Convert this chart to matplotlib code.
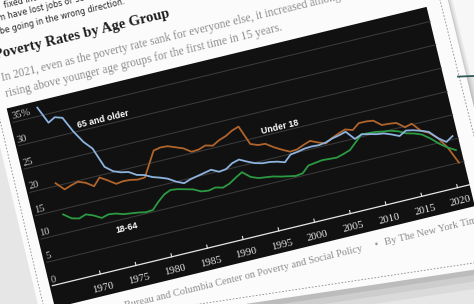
import numpy as np
import matplotlib.pyplot as plt
from matplotlib.transforms import Affine2D
from matplotlib.patches import Polygon, Rectangle

# poverty rates (%) by age group
years = list(range(1967, 2022))
under_18 = [20.6, 18.9, 19.4, 19.8, 19.2, 18.1, 19.6, 18.6, 17.5, 17.7,
            17.6, 17.3, 17.4, 19.9, 22.4, 22.7, 22.6, 22.0, 21.4, 20.3,
            20.4, 20.9, 20.5, 21.3, 21.8, 22.6, 23.1, 19.0, 18.4, 18.3,
            17.2, 16.3, 15.5, 15.6, 16.2, 16.7, 16.0, 15.4, 16.2, 16.8,
            17.3, 16.8, 17.9, 17.9, 17.7, 16.4, 16.3, 16.1, 14.8, 15.2,
            13.3, 12.5, 11.0, 8.6, 5.0]
age_18_64 = [13.9, 12.7, 12.3, 12.8, 12.2, 11.3, 11.7, 11.5, 11.0, 10.8,
             10.6, 10.3, 10.4, 11.8, 13.0, 13.6, 13.4, 13.0, 12.6, 11.8,
             11.6, 11.9, 11.5, 12.0, 12.9, 13.7, 12.3, 11.7, 11.5, 11.3,
             10.9, 10.6, 10.3, 10.5, 11.8, 12.0, 12.2, 12.1, 12.0, 12.4,
             12.9, 14.2, 15.5, 15.4, 15.3, 15.0, 14.8, 14.3, 13.5, 13.1,
             12.5, 11.3, 9.8, 8.6, 7.7]
age_65_up = [36.8, 33.2, 34.0, 33.5, 30.2, 27.6, 25.8, 21.5, 20.2, 19.6,
             19.3, 18.3, 17.9, 17.1, 16.6, 16.0, 15.0, 14.3, 14.8, 15.1,
             15.4, 15.7, 14.9, 15.1, 16.0, 16.4, 15.6, 14.9, 14.5, 14.4,
             14.1, 13.6, 14.9, 15.1, 15.4, 15.5, 15.4, 15.6, 16.1, 16.4,
             16.8, 14.9, 15.5, 15.2, 14.8, 14.6, 14.0, 13.3, 14.1, 13.8,
             13.3, 12.7, 11.0, 9.8, 10.7]

x_ticks = [1970, 1975, 1980, 1985, 1990, 1995, 2000, 2005, 2010, 2015, 2020]
y_ticks = [0, 5, 10, 15, 20, 25, 30, 35]
y_labels = ['0', '5', '10', '15', '20', '25', '30', '35%']

fig = plt.figure(figsize=(4.74, 3.04), dpi=100)
fig.patch.set_facecolor('#e6e6e6')
ax = fig.add_axes([0, 0, 1, 1])
ax.set_xlim(0, 474)
ax.set_ylim(304, 0)
ax.axis('off')

# the printed page is tilted in the photo
ROT = 13.6
c, s = np.cos(np.radians(ROT)), np.sin(np.radians(ROT))
page = Affine2D(np.array([[c, s, 0.0], [-s, c, 0.0], [0.0, 0.0, 1.0]])) + ax.transData


def chart(dv=0.0):
    return Affine2D().translate(-1970, 0).scale(7.35, -4.8).translate(33, 290 + dv) + page


# paper card, its shadow and the page behind
card = np.array([(-40, -20), (443, -20), (512, 264), (45, 334)])
ax.add_patch(Polygon([(430, -5), (480, -5), (480, 76), (445, 80)], closed=True, fc='#f7f7f7', ec='none'))
for off, a in [(18, 0.05), (11, 0.06), (5, 0.08)]:
    ax.add_patch(Polygon(card + [off * 0.5, off], closed=True, fc='black', ec='none', alpha=a))
ax.plot([458, 474], [76.6, 76], color='#2d5a55', lw=1.3)
ax.add_patch(Polygon(card, closed=True, fc='#fbfbfb', ec='none'))
ax.add_patch(Polygon([(-32.8, -20), (435, -20), (504.6, 258.3), (48.3, 326.7)], closed=True,
                     fc='none', ec='#8a8a8a', lw=0.6, ls=(0, (2, 2))))

# article text above the chart
sans = dict(transform=page, rotation=ROT, rotation_mode='anchor', ha='left', va='baseline',
            family='DejaVu Sans', fontsize=5.8, color='#262626')
ax.text(3, 8.5, 'fixed income and many', **sans)
ax.text(-6, 20.5, 'm have lost jobs or seen their hours cut', **sans)
ax.text(-7, 33, 'be going in the wrong direction.', **sans)

ax.text(-18, 56, 'Poverty Rates by Age Group', transform=page, rotation=ROT,
        rotation_mode='anchor', ha='left', va='baseline', family='Liberation Serif',
        fontsize=10.6, weight='bold', color='#1e1e1e')
sub = dict(transform=page, rotation=ROT, rotation_mode='anchor', ha='left', va='baseline',
           family='Liberation Serif', fontsize=8.3, color='#8c8c8c')
ax.text(-17, 79, 'In 2021, even as the poverty rate sank for everyone else, it increased among older adults,', **sub)
ax.text(-17, 96, 'rising above younger age groups for the first time in 15 years.', **sub)

# dark chart panel
ax.add_patch(Rectangle((-19, 107), 432, 205, transform=page, fc='#111111', ec='none'))

left, right = 1963.3, 2021.7
for p, lab in zip(y_ticks, y_labels):
    if p > 0:
        ax.plot([left, right], [p, p], transform=chart(), color='#3d3d3d', lw=0.7)
    ax.text(left, p, lab, transform=chart(-3), rotation=ROT, rotation_mode='anchor',
            ha='left', va='baseline', family='Liberation Serif', fontsize=7.6, color='#c4c4c4')
ax.plot([left, right], [0, 0], transform=chart(), color='#e6e6e6', lw=0.9)
for yr in x_ticks:
    ax.plot([yr, yr], [0, 0.65], transform=chart(), color='#e6e6e6', lw=0.8)
    ax.text(yr, 0, str(yr), transform=chart(14), rotation=ROT, rotation_mode='anchor',
            ha='center', va='center', family='Liberation Serif', fontsize=7.8, color='#e4e4e4')

ax.plot(years, under_18, transform=chart(), color='#b0642b', lw=1.3, solid_joinstyle='round')
ax.plot(years, age_18_64, transform=chart(), color='#2c9a42', lw=1.3, solid_joinstyle='round')
ax.plot(years, age_65_up, transform=chart(), color='#8db3de', lw=1.3, solid_joinstyle='round')

lab = dict(transform=chart(), rotation=ROT, rotation_mode='anchor', ha='center', va='center',
           family='Liberation Sans', fontsize=6.4, weight='bold', color='white')
ax.text(1975.3, 31.3, '65 and older', **lab)
ax.text(1998.4, 21.0, 'Under 18', **lab)
ax.text(1975.0, 8.0, '18-64', **lab)

# source line
src = dict(transform=page, rotation=ROT, rotation_mode='anchor', ha='left', va='baseline',
           family='Liberation Serif', fontsize=7.5, color='#8c8c8c')
ax.text(-17, 329, 'Source: Census Bureau and Columbia Center on Poverty and Social Policy', **src)
ax.text(306, 329, '\u2022', **src)
ax.text(317, 329, 'By The New York Times', **src)

fig.savefig('out.png', dpi=100, facecolor=fig.get_facecolor())
